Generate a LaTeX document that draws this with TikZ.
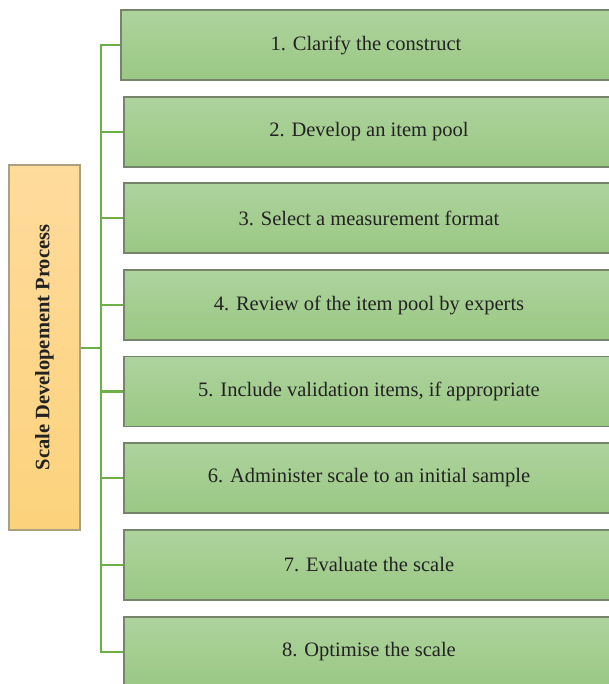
\documentclass[tikz,border=0pt]{standalone}
\usepackage{fontspec}
\setmainfont{Liberation Serif}
\usepackage{xcolor}
\usepackage{graphicx}
\usepackage{tikz}
\usetikzlibrary{positioning, calc}
\definecolor{steptop}{RGB}{174, 211, 158}
\definecolor{stepbottom}{RGB}{154, 200, 131}
\definecolor{stepborder}{RGB}{118, 132, 108}
\definecolor{roottop}{RGB}{255, 219, 156}
\definecolor{rootbottom}{RGB}{252, 210, 124}
\definecolor{rootborder}{RGB}{170, 160, 130}
\definecolor{linkcolor}{RGB}{110, 174, 70}
\definecolor{textcolor}{RGB}{34, 34, 34}

\begin{document}
\begin{tikzpicture}[
    x=1pt, y=1pt,
    stepbox/.style={draw=stepborder, line width=1.2pt, top color=steptop, bottom color=stepbottom, minimum width=490pt, minimum height=70pt, inner sep=0pt, text=textcolor, font=\fontsize{20.5}{24}\selectfont},
    rootbox/.style={draw=rootborder, line width=1.2pt, top color=roottop, bottom color=rootbottom, minimum width=71pt, minimum height=365pt, inner sep=0pt, text=textcolor, font=\fontsize{20.5}{24}\selectfont\bfseries},
    link/.style={draw=linkcolor, line width=2.2pt}
]
    \useasboundingbox (0, 0) rectangle (609, -684);

    % Root
    \node[rootbox] (root) at (44.5, -347.5) {\rotatebox{90}{Scale Developement Process}};

    % Steps
    \node[stepbox] (s1) at (366, -45) {1. Clarify the construct};
    \node[stepbox] (s2) at (369, -132) {2. Develop an item pool};
    \node[stepbox] (s3) at (369, -218) {3. Select a measurement format};
    \node[stepbox] (s4) at (369, -305) {4. Review of the item pool by experts};
    \node[stepbox] (s5) at (369, -391.5) {5. Include validation items, if appropriate};
    \node[stepbox] (s6) at (369, -478) {6. Administer scale to an initial sample};
    \node[stepbox] (s7) at (369, -565) {7. Evaluate the scale};
    \node[stepbox] (s8) at (369, -652) {8. Optimise the scale};

    % Connections
    \coordinate (hub) at (101, -348);
    \draw[link] (root.east |- hub) -- (hub);
    \draw[link] (hub) |- (s1.west);
    \draw[link] (hub) |- (s2.west);
    \draw[link] (hub) |- (s3.west);
    \draw[link] (hub) |- (s4.west);
    \draw[link] (hub) |- (s5.west);
    \draw[link] (hub) |- (s6.west);
    \draw[link] (hub) |- (s7.west);
    \draw[link] (hub) |- (s8.west);

\end{tikzpicture}
\end{document}
